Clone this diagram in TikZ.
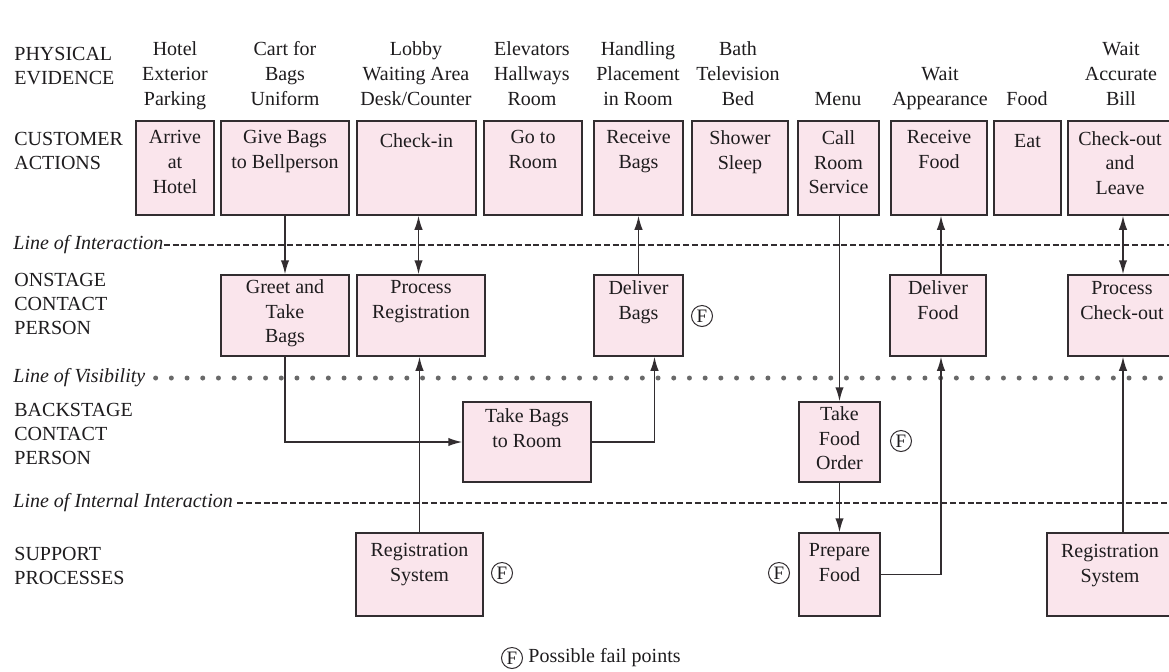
\documentclass[tikz,border=0pt]{standalone}
\usepackage{fontspec}
\setmainfont{Liberation Serif}
\usetikzlibrary{arrows.meta,fit,calc}
\definecolor{boxfill}{RGB}{250,229,236}
\definecolor{boxline}{RGB}{50,45,48}
\definecolor{txt}{RGB}{30,28,30}
\definecolor{dotc}{RGB}{105,105,105}
\newcommand\mybox[7]{%
  \node[box, fit={(#2,#3)(#4,#5)}] (#1) {};
  \node[btxt] (#1-t) at ($(#1.north)+(0,#6-#3)$) {#7};
}
\begin{document}
\begin{tikzpicture}[x=0.5pt,y=-0.5pt,
  box/.style={draw=boxline, fill=boxfill, line width=0.75pt, inner sep=0pt},
  btxt/.style={font=\fontsize{10}{12.3}\selectfont, text=txt, align=center, inner sep=0pt, anchor=north, execute at begin node=\strut},
  petxt/.style={font=\fontsize{10}{12.5}\selectfont, text=txt, align=center, inner sep=0pt, anchor=south, execute at end node=\strut},
  lbl/.style={font=\fontsize{10}{12}\selectfont, text=txt, align=left, inner sep=0pt, anchor=north west, execute at begin node=\strut},
  linelbl/.style={font=\fontsize{10}{12}\selectfont\itshape, text=txt, inner sep=0pt, anchor=west},
  arr/.style={draw=boxline, line width=0.75pt, -{Latex[length=7pt,width=4.2pt]}},
  darr/.style={draw=boxline, line width=0.75pt, {Latex[length=7pt,width=4.2pt]}-{Latex[length=7pt,width=4.2pt]}},
  dashline/.style={draw=boxline, line width=0.6pt, dash pattern=on 3pt off 1.4pt},
  dotline/.style={draw=dotc, line width=2.5pt, line cap=round, dash pattern=on 0pt off 7.85pt},
  fp/.style={draw=boxline, circle, line width=0.5pt, inner sep=0pt, minimum size=10.5pt, text=txt, font=\fontsize{9.5}{10}\selectfont}
]
\useasboundingbox (0,0) rectangle (1169,671);
\fill[white] (0,0) rectangle (1169,671);

% left labels
\node[lbl] (pe) at (14,47) {PHYSICAL\\EVIDENCE};
\node[lbl] (ca) at (14,132) {CUSTOMER\\ACTIONS};
\node[lbl] (ocp) at (14,273) {ONSTAGE\\CONTACT\\PERSON};
\node[lbl] (bcp) at (14,403) {BACKSTAGE\\CONTACT\\PERSON};
\node[lbl] (sp) at (14,547) {SUPPORT\\PROCESSES};

% physical evidence
\node[petxt] (pe1) at (175,113) {Hotel\\Exterior\\Parking};
\node[petxt] (pe2) at (285,113) {Cart for\\Bags\\Uniform};
\node[petxt] (pe3) at (416,113) {Lobby\\Waiting Area\\Desk/Counter};
\node[petxt] (pe4) at (532,113) {Elevators\\Hallways\\Room};
\node[petxt] (pe5) at (638,113) {Handling\\Placement\\in Room};
\node[petxt] (pe6) at (738,113) {Bath\\Television\\Bed};
\node[petxt] (pe7) at (838,113) {Menu};
\node[petxt] (pe8) at (940,113) {Wait\\Appearance};
\node[petxt] (pe9) at (1027,113) {Food};
\node[petxt] (pe10) at (1121,113) {Wait\\Accurate\\Bill};

% customer actions
\mybox{arrive}{136}{121}{214}{215}{131}{Arrive\\at\\Hotel}
\mybox{givebags}{221}{121}{349}{215}{131}{Give Bags\\to Bellperson}
\mybox{checkin}{357}{121}{476}{215}{131}{Check-in}
\mybox{gotoroom}{484}{121}{582}{215}{131}{Go to\\Room}
\mybox{recbags}{594}{121}{683}{215}{131}{Receive\\Bags}
\mybox{shower}{692}{121}{788}{215}{131}{Shower\\Sleep}
\mybox{callrs}{798}{121}{879}{215}{131}{Call\\Room\\Service}
\mybox{recfood}{891}{121}{987}{215}{131}{Receive\\Food}
\mybox{eat}{994}{121}{1061}{215}{131}{Eat}
\node[box, fit={(1068,121)(1178,215)}] (checkout) {};
\node[btxt] (checkout-t) at (1120,131) {Check-out\\and\\Leave};

% onstage
\mybox{greet}{221}{275}{349}{356}{280}{Greet and\\Take\\Bags}
\mybox{procreg}{357}{275}{485}{356}{281}{Process\\Registration}
\mybox{delbags}{594}{275}{683}{356}{281}{Deliver\\Bags}
\mybox{delfood}{890}{275}{986}{356}{281}{Deliver\\Food}
\node[box, fit={(1068,275)(1178,356)}] (proccheck) {};
\node[btxt] (proccheck-t) at (1122,281) {Process\\Check-out};

% backstage
\mybox{takebags}{463}{402}{591}{482}{409}{Take Bags\\to Room}
\mybox{takefood}{799}{402}{880}{482}{407}{Take\\Food\\Order}

% support
\mybox{regsys}{356}{533}{483}{616}{544}{Registration\\System}
\mybox{prepfood}{799}{533}{880}{616}{544}{Prepare\\Food}
\node[box, fit={(1047,533)(1180,616)}] (regsys2) {};
\node[btxt] (regsys2-t) at (1110,544) {Registration\\System};

% lines
\node[linelbl] (loi) at (13,245) {Line of Interaction};
\coordinate (rend1) at (1169,245);
\draw[dashline] (loi.east) -- (rend1);
\node[linelbl] (lov) at (13,378) {Line of Visibility};
\coordinate (rend2) at (1169,378);
\draw[dotline] ([xshift=5pt]lov.east) -- (rend2);
\node[linelbl] (lii) at (13,503) {Line of Internal Interaction};
\coordinate (rend3) at (1169,503);
\draw[dashline] ([xshift=2pt]lii.east) -- (rend3);

% connectors
\draw[arr] (givebags.south) -- (greet.north);
\draw[darr] ([xshift=1pt]checkin.south) -- ([xshift=1pt]checkin.south |- procreg.north);
\draw[arr] (regsys.north) -- (regsys.north |- procreg.south);
\draw[arr] (greet.south) |- (takebags.west);
\draw[arr] (takebags.east) -| ([xshift=8pt]delbags.south);
\draw[arr] (delbags.north) -- (recbags.south);
\draw[arr] (callrs.south -| takefood.north) -- (takefood.north);
\draw[arr] (takefood.south) -- (prepfood.north);
\draw[arr] (prepfood.east) -| ([xshift=1.5pt]delfood.south);
\draw[arr] ([xshift=1.5pt]delfood.north) -- ([xshift=1.5pt]delfood.north |- recfood.south);
\draw[darr] (checkout.south) -- (proccheck.north);
\draw[arr] (proccheck.south |- regsys2.north) -- (proccheck.south);

% fail points
\node[fp] (f1) at (702,316) {F};
\node[fp] (f2) at (901,441) {F};
\node[fp] (f3) at (502,573) {F};
\node[fp] (f4) at (779,573) {F};
\node[fp] (legf) at (512,658) {F};
\node[font=\fontsize{10}{12}\selectfont, text=txt, inner sep=0pt, anchor=west] (legt) at (528,658) {Possible fail points};
\end{tikzpicture}
\end{document}
